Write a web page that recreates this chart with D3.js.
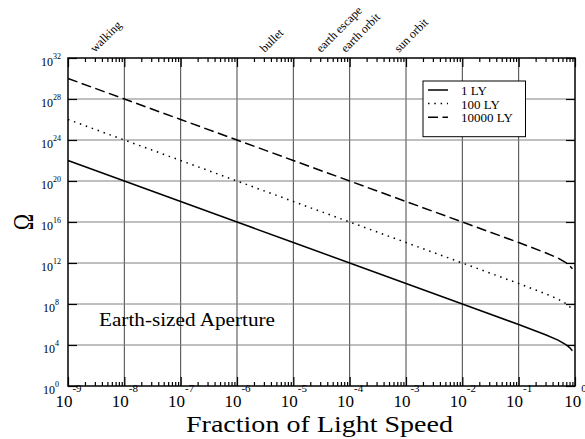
<!doctype html>
<html>
<head>
    <meta charset="UTF-8">
    <title>omega</title>
    <script src="https://d3js.org/d3.v7.min.js"></script>
    <style>
        body{ margin:0; background:#fff; }
        svg text{ font-family: "Liberation Serif", "Times New Roman", Times, serif !important; fill:#000; }
    </style>
</head>
<body>
    <svg id="chart"></svg>
    <script>
        // speed as fraction of c, and Omega
        var speeds     = [1e-9, 1e-8, 1e-7, 1e-6, 1e-5, 1e-4, 1e-3, 1e-2, 1e-1, 0.3, 0.5, 0.7, 0.8, 0.9];
        var omega1     = [1e22, 1e20, 1e18, 1e16, 1e14, 1e12, 1e10, 1e8, 1e6, 1.0e5, 3.0e4, 1.05e4, 5.6e3, 2.8e3];
        var omega100   = [1e26, 1e24, 1e22, 1e20, 1e18, 1e16, 1e14, 1e12, 1e10, 1.0e9, 3.0e8, 1.05e8, 5.6e7, 2.8e7];
        var omega10000 = [1e30, 1e28, 1e26, 1e24, 1e22, 1e20, 1e18, 1e16, 1e14, 1.0e13, 3.0e12, 1.05e12, 5.6e11, 2.8e11];
        var seriesNames = ["1 LY", "100 LY", "10000 LY"];
        var seriesDash  = ["none", "1.5 4.8", "10 4.5"];

        var xTicks = [1e-9, 1e-8, 1e-7, 1e-6, 1e-5, 1e-4, 1e-3, 1e-2, 1e-1, 1];
        var yTicks = [1e0, 1e4, 1e8, 1e12, 1e16, 1e20, 1e24, 1e28, 1e32];

        var markNames  = ["walking", "bullet", "earth escape", "earth orbit", "sun orbit"];
        var markSpeeds = [3e-9, 3.1e-6, 3.1e-5, 8.5e-5, 7.5e-4];

        var w = 585, h = 439;
        var pL = 68, pR = 575, pT = 58, pB = 386;
        var serif = "Liberation Serif, Times New Roman, serif";

        var svg = d3.select("#chart").attr("width", w).attr("height", h)
                    .attr("font-family", serif);

        var x = d3.scaleLog().domain([1e-9, 1]).range([pL, pR]);
        var y = d3.scaleLog().domain([1, 1e32]).range([pB, pT]);

        var minor = [];
        xTicks.slice(0, -1).forEach(function(d){
            for (var k = 2; k <= 9; k++) minor.push(d * k);
        });

        // grid
        svg.append("g").selectAll("line").data(xTicks.slice(1, -1)).enter().append("line")
           .attr("x1", function(d){ return x(d); }).attr("x2", function(d){ return x(d); })
           .attr("y1", pT).attr("y2", pB)
           .attr("stroke", "#444").attr("stroke-width", 1);
        svg.append("g").selectAll("line").data(yTicks.slice(1, -1)).enter().append("line")
           .attr("y1", function(d){ return y(d); }).attr("y2", function(d){ return y(d); })
           .attr("x1", pL).attr("x2", pR)
           .attr("stroke", "#808080").attr("stroke-width", 1);

        // axes (ticks inward)
        var gx = svg.append("g").attr("transform", "translate(0," + pB + ")")
            .call(d3.axisBottom(x).tickValues(xTicks).tickSize(-9).tickFormat(""));
        svg.append("g").attr("transform", "translate(0," + pB + ")")
            .call(d3.axisBottom(x).tickValues(minor).tickSize(-4).tickFormat(""));
        svg.append("g").attr("transform", "translate(0," + pT + ")")
            .call(d3.axisTop(x).tickValues(xTicks).tickSize(-9).tickFormat(""));
        svg.append("g").attr("transform", "translate(0," + pT + ")")
            .call(d3.axisTop(x).tickValues(minor).tickSize(-4).tickFormat(""));
        var gy = svg.append("g").attr("transform", "translate(" + pL + ",0)")
            .call(d3.axisLeft(y).tickValues(yTicks).tickSize(-9).tickFormat(""));
        svg.append("g").attr("transform", "translate(" + pR + ",0)")
            .call(d3.axisRight(y).tickValues(yTicks).tickSize(-9).tickFormat(""));
        svg.selectAll(".domain").remove();
        svg.selectAll("g").attr("font-family", serif);
        svg.selectAll(".tick line").attr("stroke", "#000").attr("stroke-width", 1.2);

        // tick labels 10^n
        gx.selectAll(".tick text").each(function(d){
            var t = d3.select(this).attr("y", 21).attr("dy", null)
                      .attr("text-anchor", "middle").attr("font-size", 17);
            t.append("tspan").text("10");
            t.append("tspan").attr("dy", -15).attr("font-size", 11)
             .text(Math.round(Math.log10(d)));
        });
        gy.selectAll(".tick text").each(function(d){
            var t = d3.select(this).attr("x", -17).attr("dy", null).attr("y", 7.5)
                      .attr("text-anchor", "middle").attr("font-size", 12);
            t.append("tspan").text("10");
            t.append("tspan").attr("dy", -7).attr("font-size", 8)
             .text(Math.round(Math.log10(d)));
        });

        // frame
        svg.append("rect").attr("x", pL).attr("y", pT)
           .attr("width", pR - pL).attr("height", pB - pT)
           .attr("fill", "none").attr("stroke", "#000").attr("stroke-width", 1.5);

        // curves
        var series = [omega1, omega100, omega10000];
        var line = d3.line()
            .x(function(d){ return x(d[0]); })
            .y(function(d){ return y(d[1]); });
        svg.append("g").selectAll("path").data(series).enter().append("path")
           .attr("d", function(s){ return line(speeds.map(function(v, i){ return [v, s[i]]; })); })
           .attr("fill", "none").attr("stroke", "#000").attr("stroke-width", 1.5)
           .attr("stroke-dasharray", function(s, i){ return seriesDash[i]; });

        // legend
        var lg = svg.append("g");
        lg.append("rect").attr("x", 423).attr("y", 81).attr("width", 102.5).attr("height", 55.7)
          .attr("fill", "#fff").attr("stroke", "#000").attr("stroke-width", 1);
        seriesNames.forEach(function(n, i){
            var yy = 90 + i * 13.6;
            lg.append("line").attr("x1", 428).attr("x2", 448).attr("y1", yy).attr("y2", yy)
              .attr("stroke", "#000").attr("stroke-width", 1.5)
              .attr("stroke-dasharray", seriesDash[i]);
            lg.append("text").attr("x", 461).attr("y", yy + 5).attr("font-size", 13).text(n);
        });

        // speed markers above the plot
        svg.append("g").selectAll("text").data(markNames).enter().append("text")
           .attr("transform", function(d, i){ return "translate(" + x(markSpeeds[i]) + ",53) rotate(-45)"; })
           .attr("font-size", 12)
           .text(function(d){ return d; });

        svg.append("text").attr("x", 99).attr("y", 326).attr("font-size", 19)
           .attr("textLength", 176).attr("lengthAdjust", "spacingAndGlyphs")
           .text("Earth-sized Aperture");

        svg.append("text").attr("x", 186).attr("y", 431.5).attr("font-size", 22.5)
           .attr("textLength", 267).attr("lengthAdjust", "spacingAndGlyphs")
           .text("Fraction of Light Speed");

        svg.append("text").attr("transform", "translate(33,222) rotate(-90) scale(1,1.3)")
           .attr("text-anchor", "middle").attr("font-size", 22).text("Ω");
    </script>
</body>
</html>
